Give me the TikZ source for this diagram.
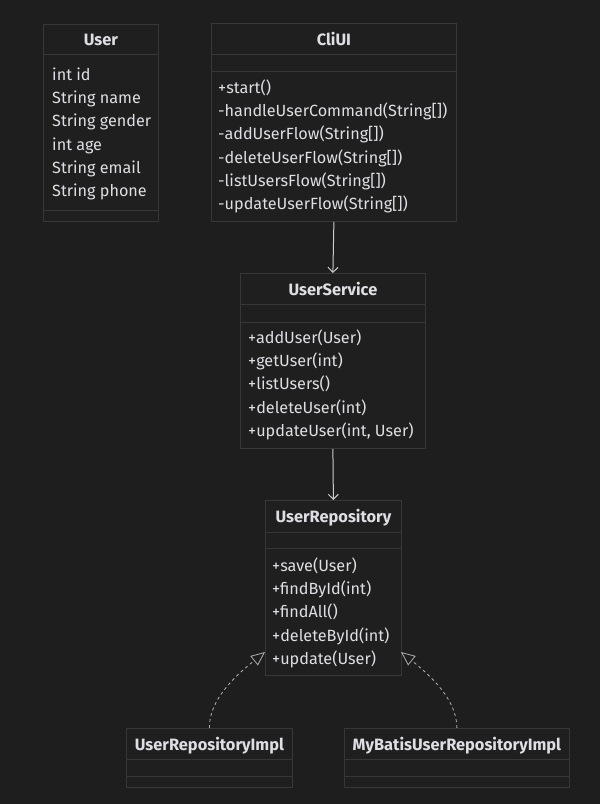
\documentclass[tikz,border=0pt]{standalone}
\usepackage{fontspec}
\setmainfont{Fira Sans}
\usetikzlibrary{arrows.meta}
\definecolor{bgdark}{RGB}{30,30,30}
\definecolor{boxfill}{RGB}{31,31,31}
\definecolor{boxline}{RGB}{55,55,55}
\definecolor{textgray}{RGB}{222,222,228}
\definecolor{linkgray}{RGB}{205,205,205}
\definecolor{dashgray}{RGB}{175,175,175}

\begin{document}
\begin{tikzpicture}[x=1pt, y=-1pt,
        classbox/.style={draw=boxline, fill=boxfill, line width=0.8pt, anchor=north west, inner sep=0pt},
        classtitle/.style={text=textgray, text height=12.5pt, text depth=0pt, font=\fontsize{16.4}{19}\selectfont\bfseries},
        member/.style={text=textgray, anchor=west, inner sep=0pt, text height=11pt, text depth=3pt, font=\fontsize{16.2}{19}\selectfont},
        uses/.style={draw=linkgray, line width=1pt, -{Straight Barb[length=5pt, width=10pt]}},
        realizes/.style={draw=dashgray, dashed, line width=0.8pt, -{Triangle[open, length=14pt, width=12pt, fill=bgdark]}}]
        \fill[bgdark] (0,0) rectangle (600,804);
        \useasboundingbox (0,0) rectangle (600,804);
        % User
        \node[classbox, classtitle, minimum width=115pt, minimum height=30pt] (usertitle) at (43,24) {User};
        \node[classbox, minimum width=115pt, minimum height=156pt] (userattr) at (43,54) {};
        \node[classbox, minimum width=115pt, minimum height=11pt] (usermeth) at (43,210) {};
        \foreach \m [count=\i] in {int id, String name, String gender, int age, String email, String phone} {
          \node[member] (user-\i) at (52, {76.5+23.2*(\i-1)}) {\m};
        }
        % CliUI
        \node[classbox, classtitle, minimum width=245pt, minimum height=31pt] (cliuititle) at (211,23) {CliUI};
        \node[classbox, minimum width=245pt, minimum height=17pt] (cliuiattr) at (211,54) {};
        \node[classbox, minimum width=245pt, minimum height=150pt] (cliuimeth) at (211,71) {};
        \foreach \m [count=\i] in {+start(), -handleUserCommand(String[]), -addUserFlow(String[]), -deleteUserFlow(String[]), -listUsersFlow(String[]), -updateUserFlow(String[])} {
          \node[member] (cliui-\i) at (218, {89.5+23.2*(\i-1)}) {\m};
        }
        % UserService
        \node[classbox, classtitle, minimum width=185pt, minimum height=31pt] (servicetitle) at (240,273) {UserService};
        \node[classbox, minimum width=185pt, minimum height=18pt] (serviceattr) at (240,304) {};
        \node[classbox, minimum width=185pt, minimum height=126pt] (servicemeth) at (240,322) {};
        \foreach \m [count=\i] in {+addUser(User), +getUser(int), +listUsers(), +deleteUser(int), {+updateUser(int, User)}} {
          \node[member] (service-\i) at (248, {339.5+23.2*(\i-1)}) {\m};
        }
        % UserRepository
        \node[classbox, classtitle, minimum width=136pt, minimum height=32pt] (repotitle) at (265,500) {UserRepository};
        \node[classbox, minimum width=136pt, minimum height=16pt] (repoattr) at (265,532) {};
        \node[classbox, minimum width=136pt, minimum height=127pt] (repometh) at (265,548) {};
        \foreach \m [count=\i] in {+save(User), +findById(int), +findAll(), +deleteById(int), +update(User)} {
          \node[member] (repo-\i) at (272, {567.5+23.2*(\i-1)}) {\m};
        }
        % Implementations
        \node[classbox, classtitle, minimum width=166pt, minimum height=31pt] (impltitle) at (126,728) {UserRepositoryImpl};
        \node[classbox, minimum width=166pt, minimum height=17pt] (implattr) at (126,759) {};
        \node[classbox, minimum width=166pt, minimum height=11pt] (implmeth) at (126,776) {};
        \node[classbox, classtitle, minimum width=225pt, minimum height=31pt] (mybatistitle) at (344,728) {MyBatisUserRepositoryImpl};
        \node[classbox, minimum width=225pt, minimum height=17pt] (mybatisattr) at (344,759) {};
        \node[classbox, minimum width=225pt, minimum height=11pt] (mybatismeth) at (344,776) {};
        % Links
        \coordinate (repoleft) at (265,652);
        \coordinate (reporight) at (401,652);
        \draw[uses] (cliuimeth.south) -- (servicetitle.north);
        \draw[uses] (servicemeth.south) -- (repotitle.north);
        \draw[realizes] (impltitle.north) .. controls (209,700) and (235,676) .. (repoleft);
        \draw[realizes] (mybatistitle.north) .. controls (457,700) and (431,676) .. (reporight);
\end{tikzpicture}
\end{document}
